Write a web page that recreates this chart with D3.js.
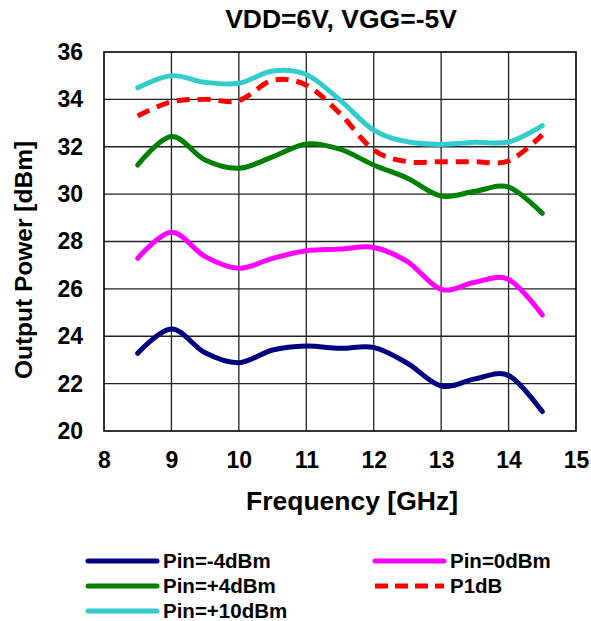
<!DOCTYPE html>
<html>
<head>
<meta charset="utf-8">
<script src="https://cdn.jsdelivr.net/npm/d3@7"></script>
<style>
  body { margin: 0; background: #fff; }
  text { font-family: "Liberation Sans", Arial, sans-serif; font-weight: bold; fill: #000; }
</style>
</head>
<body>
<svg id="chart" width="591" height="621"></svg>
<script>
  // frequency points (GHz)
  var freq = [8.5, 9, 9.5, 10, 10.5, 11, 11.5, 12, 12.5, 13, 13.5, 14, 14.5];

  var pinM4  = [23.28, 24.31, 23.3, 22.88, 23.42, 23.59, 23.49, 23.53, 22.86, 21.9, 22.2, 22.34, 20.82];
  var pin0   = [27.29, 28.39, 27.36, 26.87, 27.29, 27.61, 27.68, 27.75, 27.15, 25.98, 26.28, 26.4, 24.9];
  var pinP4  = [31.23, 32.43, 31.44, 31.09, 31.57, 32.12, 31.9, 31.23, 30.67, 29.92, 30.12, 30.3, 29.19];
  var pinP10 = [34.49, 35.0, 34.72, 34.68, 35.2, 35.05, 33.97, 32.7, 32.21, 32.1, 32.19, 32.2, 32.89];
  var p1dB   = [33.3, 33.9, 34.0, 33.95, 34.8, 34.6, 33.4, 31.86, 31.37, 31.37, 31.37, 31.4, 32.5];

  var xTicks = [8, 9, 10, 11, 12, 13, 14, 15];
  var yTicks = [20, 22, 24, 26, 28, 30, 32, 34, 36];

  var series = [
    { name: 'Pin=-4dBm',  values: pinM4,  color: '#000080', dash: null },
    { name: 'Pin=0dBm',   values: pin0,   color: '#ff00ff', dash: null },
    { name: 'Pin=+4dBm',  values: pinP4,  color: '#008000', dash: null },
    { name: 'Pin=+10dBm', values: pinP10, color: '#33cccc', dash: null },
    { name: 'P1dB',       values: p1dB,   color: '#ff0000', dash: '13,8' }
  ];

  (function(){
    var svg = d3.select('#chart');
    var pl = 104, pr = 576, pt = 52, pb = 431;

    var x = d3.scaleLinear().domain([8, 15]).range([pl, pr]);
    var y = d3.scaleLinear().domain([20, 36]).range([pb, pt]);

    // grid
    svg.append('g').selectAll('line')
      .data(xTicks.slice(1, -1))
      .enter().append('line')
        .attr('x1', (d) => x(d)).attr('x2', (d) => x(d))
        .attr('y1', pt).attr('y2', pb)
        .attr('stroke', '#222').attr('stroke-width', 1.3);
    svg.append('g').selectAll('line')
      .data(yTicks.slice(1, -1))
      .enter().append('line')
        .attr('x1', pl).attr('x2', pr)
        .attr('y1', (d) => y(d)).attr('y2', (d) => y(d))
        .attr('stroke', '#222').attr('stroke-width', 1.3);

    svg.append('rect')
      .attr('x', pl).attr('y', pt)
      .attr('width', pr - pl).attr('height', pb - pt)
      .attr('fill', 'none').attr('stroke', '#000').attr('stroke-width', 1.6);

    // axes (labels only)
    var gx = svg.append('g')
      .attr('transform', 'translate(0,' + pb + ')')
      .call(d3.axisBottom(x).tickValues(xTicks).tickSize(0).tickPadding(21).tickFormat(d3.format('d')));
    var gy = svg.append('g')
      .attr('transform', 'translate(' + pl + ',0)')
      .call(d3.axisLeft(y).tickValues(yTicks).tickSize(0).tickPadding(21).tickFormat(d3.format('d')));
    [gx, gy].forEach(function(g){
      g.select('.domain').remove();
      g.selectAll('text')
        .attr('font-family', '"Liberation Sans", Arial, sans-serif')
        .attr('font-weight', 'bold')
        .attr('font-size', 23)
        .attr('fill', '#000');
    });

    // lines
    var line = d3.line()
      .x((d, i) => x(freq[i]))
      .y((d) => y(d))
      .curve(d3.curveCardinal.tension(0));

    series.forEach(function(s){
      svg.append('path')
        .datum(s.values)
        .attr('d', line)
        .attr('fill', 'none')
        .attr('stroke', s.color)
        .attr('stroke-width', 5)
        .attr('stroke-linecap', s.dash ? 'butt' : 'round')
        .attr('stroke-dasharray', s.dash);
    });

    // titles
    svg.append('text')
      .attr('x', 341).attr('y', 28)
      .attr('text-anchor', 'middle')
      .attr('font-size', 26.5)
      .text('VDD=6V, VGG=-5V');

    svg.append('text')
      .attr('x', 352).attr('y', 510)
      .attr('text-anchor', 'middle')
      .attr('font-size', 26.5)
      .text('Frequency [GHz]');

    svg.append('text')
      .attr('transform', 'translate(32,260) rotate(-90)')
      .attr('text-anchor', 'middle')
      .attr('font-size', 24.5)
      .text('Output Power [dBm]');

    // legend
    var legendPos = [
      { lx: 88, ly: 561 }, { lx: 375, ly: 561 },
      { lx: 88, ly: 586 }, { lx: 375, ly: 586 },
      { lx: 88, ly: 611 }
    ];
    var order = [0, 1, 2, 4, 3];
    order.forEach(function(si, k){
      var s = series[si], p = legendPos[k];
      svg.append('line')
        .attr('x1', p.lx).attr('x2', p.lx + 69)
        .attr('y1', p.ly).attr('y2', p.ly)
        .attr('stroke', s.color)
        .attr('stroke-width', 5)
        .attr('stroke-linecap', s.dash ? 'butt' : 'round')
        .attr('stroke-dasharray', s.dash ? '13,7' : null);
      svg.append('text')
        .attr('x', p.lx + 75).attr('y', p.ly + 7)
        .attr('font-size', 20.5)
        .text(s.name);
    });
  })();
</script>
</body>
</html>
